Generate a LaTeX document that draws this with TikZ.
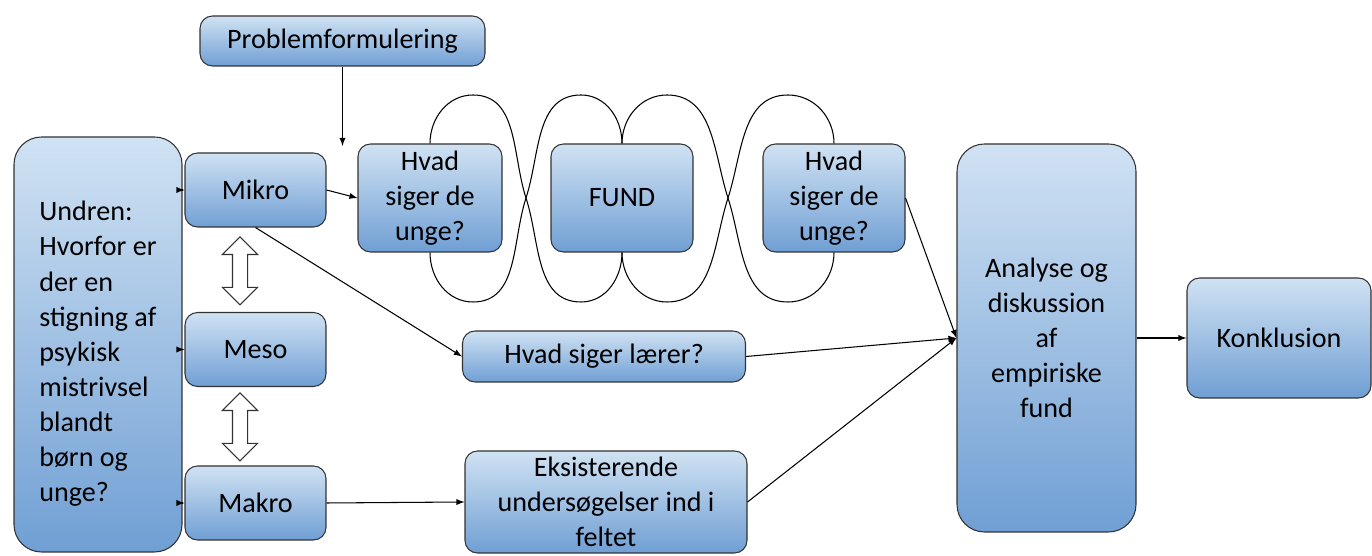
\documentclass[tikz,border=0pt]{standalone}
\usepackage{fontspec}
\setmainfont{Carlito}
\usetikzlibrary{positioning, calc}
\usetikzlibrary{shapes.arrows}
\usetikzlibrary{arrows}

\definecolor{boxtop}{RGB}{208,226,243}
\definecolor{boxbot}{RGB}{112,159,212}
\definecolor{boxline}{RGB}{50,50,50}

\tikzset{
  box/.style={draw=boxline, line width=0.6pt, rounded corners=0.25cm, top color=boxtop, bottom color=boxbot, align=center, inner sep=0pt, font=\fontsize{16}{20}\selectfont},
  tallbox/.style={box, rounded corners=0.55cm},
  link/.style={-latex, line width=0.6pt},
  swirl/.style={line width=0.6pt},
  twoway/.style={double arrow, draw=boxline, fill=white, rotate=90, minimum height=1.36cm, inner sep=0.14cm, double arrow head extend=0.2cm, line width=0.6pt}
}

\begin{document}
\begin{tikzpicture}
            \useasboundingbox (0,0) rectangle (27.44,11.12);
            \node[tallbox, align=left, minimum width=3.36cm, minimum height=8.30cm] (undren) at (1.96,4.23) {\rule{0pt}{22pt}Undren:\\Hvorfor er\\der en\\stigning af\\psykisk\\mistrivsel\\blandt\\børn og\\unge?};
            \node[box, minimum width=2.82cm, minimum height=1.48cm] (mikro) at (5.11,7.32) {Mikro};
            \node[box, minimum width=2.82cm, minimum height=1.48cm] (meso) at (5.11,4.13) {Meso};
            \node[box, minimum width=2.82cm, minimum height=1.48cm] (makro) at (5.11,1.06) {Makro};
            \node[twoway] (da1) at (4.80,5.70) {};
            \node[twoway] (da2) at (4.80,2.58) {};
            \node[box, minimum width=5.70cm, minimum height=1.00cm] (problem) at (6.85,10.30) {Problemformulering};
            \node[box, minimum width=2.88cm, minimum height=2.16cm] (unge1) at (8.60,7.16) {Hvad\\siger de\\unge?};
            \node[box, minimum width=2.84cm, minimum height=2.16cm] (fund) at (12.44,7.16) {FUND};
            \node[box, minimum width=2.84cm, minimum height=2.16cm] (unge2) at (16.68,7.16) {Hvad\\siger de\\unge?};
            \node[box, minimum width=5.66cm, minimum height=1.02cm] (laerer) at (12.08,3.99) {Hvad siger lærer?};
            \node[box, minimum width=5.64cm, minimum height=2.04cm] (eksist) at (12.12,1.08) {Eksisterende\\undersøgelser ind i\\feltet};
            \node[tallbox, minimum width=3.58cm, minimum height=7.76cm] (analyse) at (20.93,4.36) {Analyse og\\diskussion\\af\\empiriske\\fund};
            \node[box, minimum width=3.68cm, minimum height=2.40cm] (konkl) at (25.58,4.36) {Konklusion};
            \coordinate (probend) at (6.85,8.20);
            \draw[link] (undren.east |- mikro.west) -- (mikro.west);
            \draw[link] (undren.east |- meso.west) -- (meso.west);
            \draw[link] (undren.east |- makro.west) -- (makro.west);
            \draw[link] (problem.south) -- (probend);
            \draw[link] (mikro.east) -- (unge1.west);
            \draw[link] (mikro.south) -- (laerer.west);
            \draw[link] (makro.east) -- (eksist.west);
            \draw[swirl] (unge1.north) to[out=90,in=180] (9.46,9.22) to[out=0,in=108] (10.52,7.16) to[out=-72,in=180] (11.62,5.08) to[out=0,in=-90] (fund.south);
            \draw[swirl] (unge1.south) to[out=-90,in=180] (9.46,5.08) to[out=0,in=-108] (10.52,7.16) to[out=72,in=180] (11.62,9.22) to[out=0,in=90] (fund.north);
            \draw[swirl] (fund.north) to[out=90,in=180] (13.34,9.22) to[out=0,in=108] (14.56,7.16) to[out=-72,in=180] (15.76,5.08) to[out=0,in=-90] (unge2.south);
            \draw[swirl] (fund.south) to[out=-90,in=180] (13.34,5.08) to[out=0,in=-108] (14.56,7.16) to[out=72,in=180] (15.76,9.22) to[out=0,in=90] (unge2.north);
            \draw[link] (unge2.east) -- (analyse.west);
            \draw[link] (laerer.east) -- (analyse.west);
            \draw[link] (eksist.east) -- (analyse.west);
            \draw[link] (analyse.east) -- (konkl.west);
        \end{tikzpicture}
\end{document}
